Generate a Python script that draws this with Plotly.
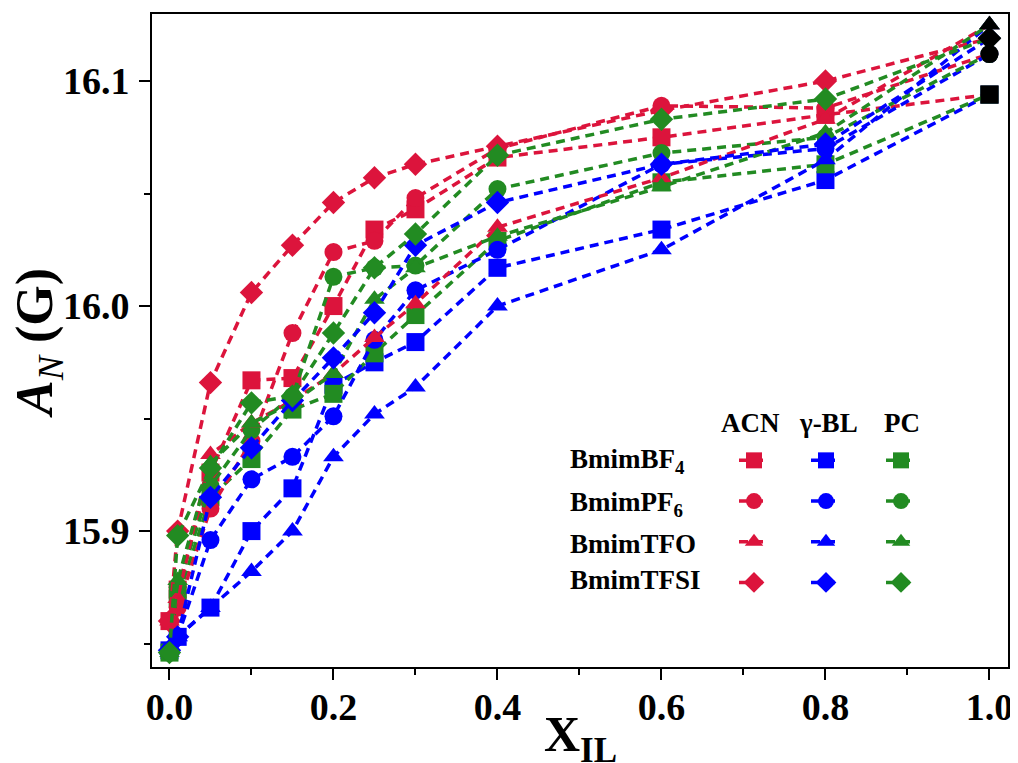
import plotly.graph_objects as go

x_il = [0, 0.01, 0.05, 0.1, 0.15, 0.2, 0.25, 0.3, 0.4, 0.6, 0.8, 1.0]

# ACN (red)
acn_bf4 = [15.860, 15.874, 15.926, 15.967, 15.968, 16.000, 16.034, 16.043, 16.066, 16.075, 16.085, 16.094]
acn_pf6 = [15.860, 15.866, 15.910, 15.940, 15.988, 16.024, 16.029, 16.048, 16.070, 16.089, 16.088, 16.112]
acn_tfo = [15.860, 15.870, 15.934, 15.948, 15.958, 15.970, 15.986, 16.001, 16.035, 16.057, 16.083, 16.125]
acn_tfsi = [15.860, 15.900, 15.966, 16.006, 16.027, 16.046, 16.057, 16.063, 16.071, 16.087, 16.100, 16.119]
# gamma-BL (blue)
gbl_bf4 = [15.847, 15.853, 15.866, 15.900, 15.919, 15.965, 15.975, 15.984, 16.017, 16.034, 16.056, 16.094]
gbl_pf6 = [15.847, 15.853, 15.896, 15.923, 15.933, 15.951, 15.985, 16.007, 16.025, 16.063, 16.070, 16.112]
gbl_tfo = [15.847, 15.853, 15.866, 15.882, 15.900, 15.933, 15.952, 15.964, 16.000, 16.025, 16.065, 16.125]
gbl_tfsi = [15.847, 15.853, 15.915, 15.937, 15.958, 15.977, 15.997, 16.027, 16.046, 16.063, 16.072, 16.119]
# PC (green)
pc_bf4 = [15.846, 15.870, 15.915, 15.932, 15.954, 15.961, 15.979, 15.996, 16.029, 16.055, 16.063, 16.094]
pc_pf6 = [15.846, 15.875, 15.920, 15.945, 15.960, 16.013, 16.017, 16.018, 16.052, 16.068, 16.075, 16.112]
pc_tfo = [15.846, 15.878, 15.930, 15.948, 15.957, 15.970, 16.003, 16.017, 16.031, 16.053, 16.077, 16.125]
pc_tfsi = [15.846, 15.898, 15.928, 15.957, 15.960, 15.988, 16.017, 16.032, 16.067, 16.083, 16.092, 16.119]

# pure ionic liquids at X_IL = 1
pure_x = [1.0, 1.0, 1.0, 1.0]
pure_an = [16.094, 16.112, 16.125, 16.119]

ionic_liquids = ["BmimBF<sub>4</sub>", "BmimPF<sub>6</sub>", "BmimTFO", "BmimTFSI"]
solvents = ["ACN", "γ-BL", "PC"]
symbols = ["square", "circle", "triangle-up", "diamond"]
colors = {"ACN": "#DC143C", "γ-BL": "#0000FF", "PC": "#228B22"}
legend_ids = {"ACN": "legend", "γ-BL": "legend2", "PC": "legend3"}
series = {
    "ACN": [acn_bf4, acn_pf6, acn_tfo, acn_tfsi],
    "γ-BL": [gbl_bf4, gbl_pf6, gbl_tfo, gbl_tfsi],
    "PC": [pc_bf4, pc_pf6, pc_tfo, pc_tfsi],
}

FONT = "Liberation Serif, Times New Roman, serif"

fig = go.Figure()
for i, (il, sym) in enumerate(zip(ionic_liquids, symbols)):
    for solv in solvents:
        fig.add_trace(go.Scatter(
            x=x_il, y=series[solv][i], mode="lines+markers", name="",
            legend=legend_ids[solv],
            line=dict(color=colors[solv], width=3.5, dash="9px,6px"),
            marker=dict(symbol=sym, size=18, color=colors[solv], line=dict(width=0)),
            hoverinfo="x+y",
        ))

fig.add_trace(go.Scatter(
    x=pure_x, y=pure_an, mode="markers", showlegend=False,
    marker=dict(symbol=symbols, size=18, color="black", line=dict(width=0)),
))

axis_common = dict(
    showline=True, linecolor="black", linewidth=2, mirror=True,
    ticks="outside", ticklen=11, tickwidth=2, tickcolor="black",
    showgrid=False, zeroline=False, automargin=False,
    tickfont=dict(family=FONT, size=38, color="black", weight="bold"),
)

fig.update_xaxes(
    range=[-0.0213, 1.0226], tick0=0, dtick=0.2, tickformat=".1f",
    minor=dict(ticks="outside", ticklen=6, tickwidth=2, tickcolor="black", dtick=0.1, tick0=0),
    ticklabelstandoff=-6,
    **axis_common,
)
fig.update_yaxes(
    range=[15.8396, 16.1298], tick0=15.9, dtick=0.1, tickformat=".1f",
    minor=dict(ticks="outside", ticklen=6, tickwidth=2, tickcolor="black", dtick=0.05, tick0=15.85),
    ticklabelstandoff=2,
    **axis_common,
)

# page body adds an 8px offset; screen plot area spans x 152..1008, y 14..667
OFF = 8
W, H = 1018 - OFF, 763 - OFF
L, R, T, B = 152 - OFF, 10, 14 - OFF, 96
pw, ph = W - L - R, H - T - B

def px_x(px):
    return (px - 152) / pw

def px_y(py):
    return (667 - py) / ph

legend_common = dict(
    bgcolor="rgba(0,0,0,0)", borderwidth=0, xanchor="left", yanchor="top",
    font=dict(family=FONT, size=29, color="black"), itemwidth=30,
    tracegroupgap=0,
)
annotations = []
# axis titles
annotations.append(dict(
    text="<b><i>A</i></b><sub><i>N</i></sub><b> (G)</b>", xref="paper", yref="paper",
    x=px_x(38), y=px_y(343), textangle=-90, showarrow=False,
    font=dict(family=FONT, size=52, color="black"), xanchor="center", yanchor="middle",
))
annotations.append(dict(
    text="<b>X</b><sub><b>IL</b></sub>", xref="paper", yref="paper",
    x=px_x(580), y=px_y(738), showarrow=False,
    font=dict(family=FONT, size=50, color="black"), xanchor="center", yanchor="middle",
))
# legend column headers
for solv, cx in zip(solvents, [750, 828, 902]):
    annotations.append(dict(
        text="<b>%s</b>" % solv, xref="paper", yref="paper", x=px_x(cx), y=px_y(423),
        showarrow=False, font=dict(family=FONT, size=27, color="black"),
        xanchor="center", yanchor="middle",
    ))
# legend row labels
for il, cy in zip(ionic_liquids, [461, 504, 544, 580]):
    annotations.append(dict(
        text="<b>%s</b>" % il, xref="paper", yref="paper", x=px_x(568), y=px_y(cy),
        showarrow=False, font=dict(family=FONT, size=27, color="black"),
        xanchor="left", yanchor="middle",
    ))

fig.update_layout(
    width=W, height=H,
    margin=dict(l=L, r=R, t=T, b=B, autoexpand=False),
    paper_bgcolor="white", plot_bgcolor="white",
    font=dict(family=FONT, color="black"),
    legend=dict(x=px_x(734), y=px_y(435), **legend_common),
    legend2=dict(x=px_x(806), y=px_y(435), **legend_common),
    legend3=dict(x=px_x(881), y=px_y(435), **legend_common),
    annotations=annotations,
)

fig.write_html("out.html")
